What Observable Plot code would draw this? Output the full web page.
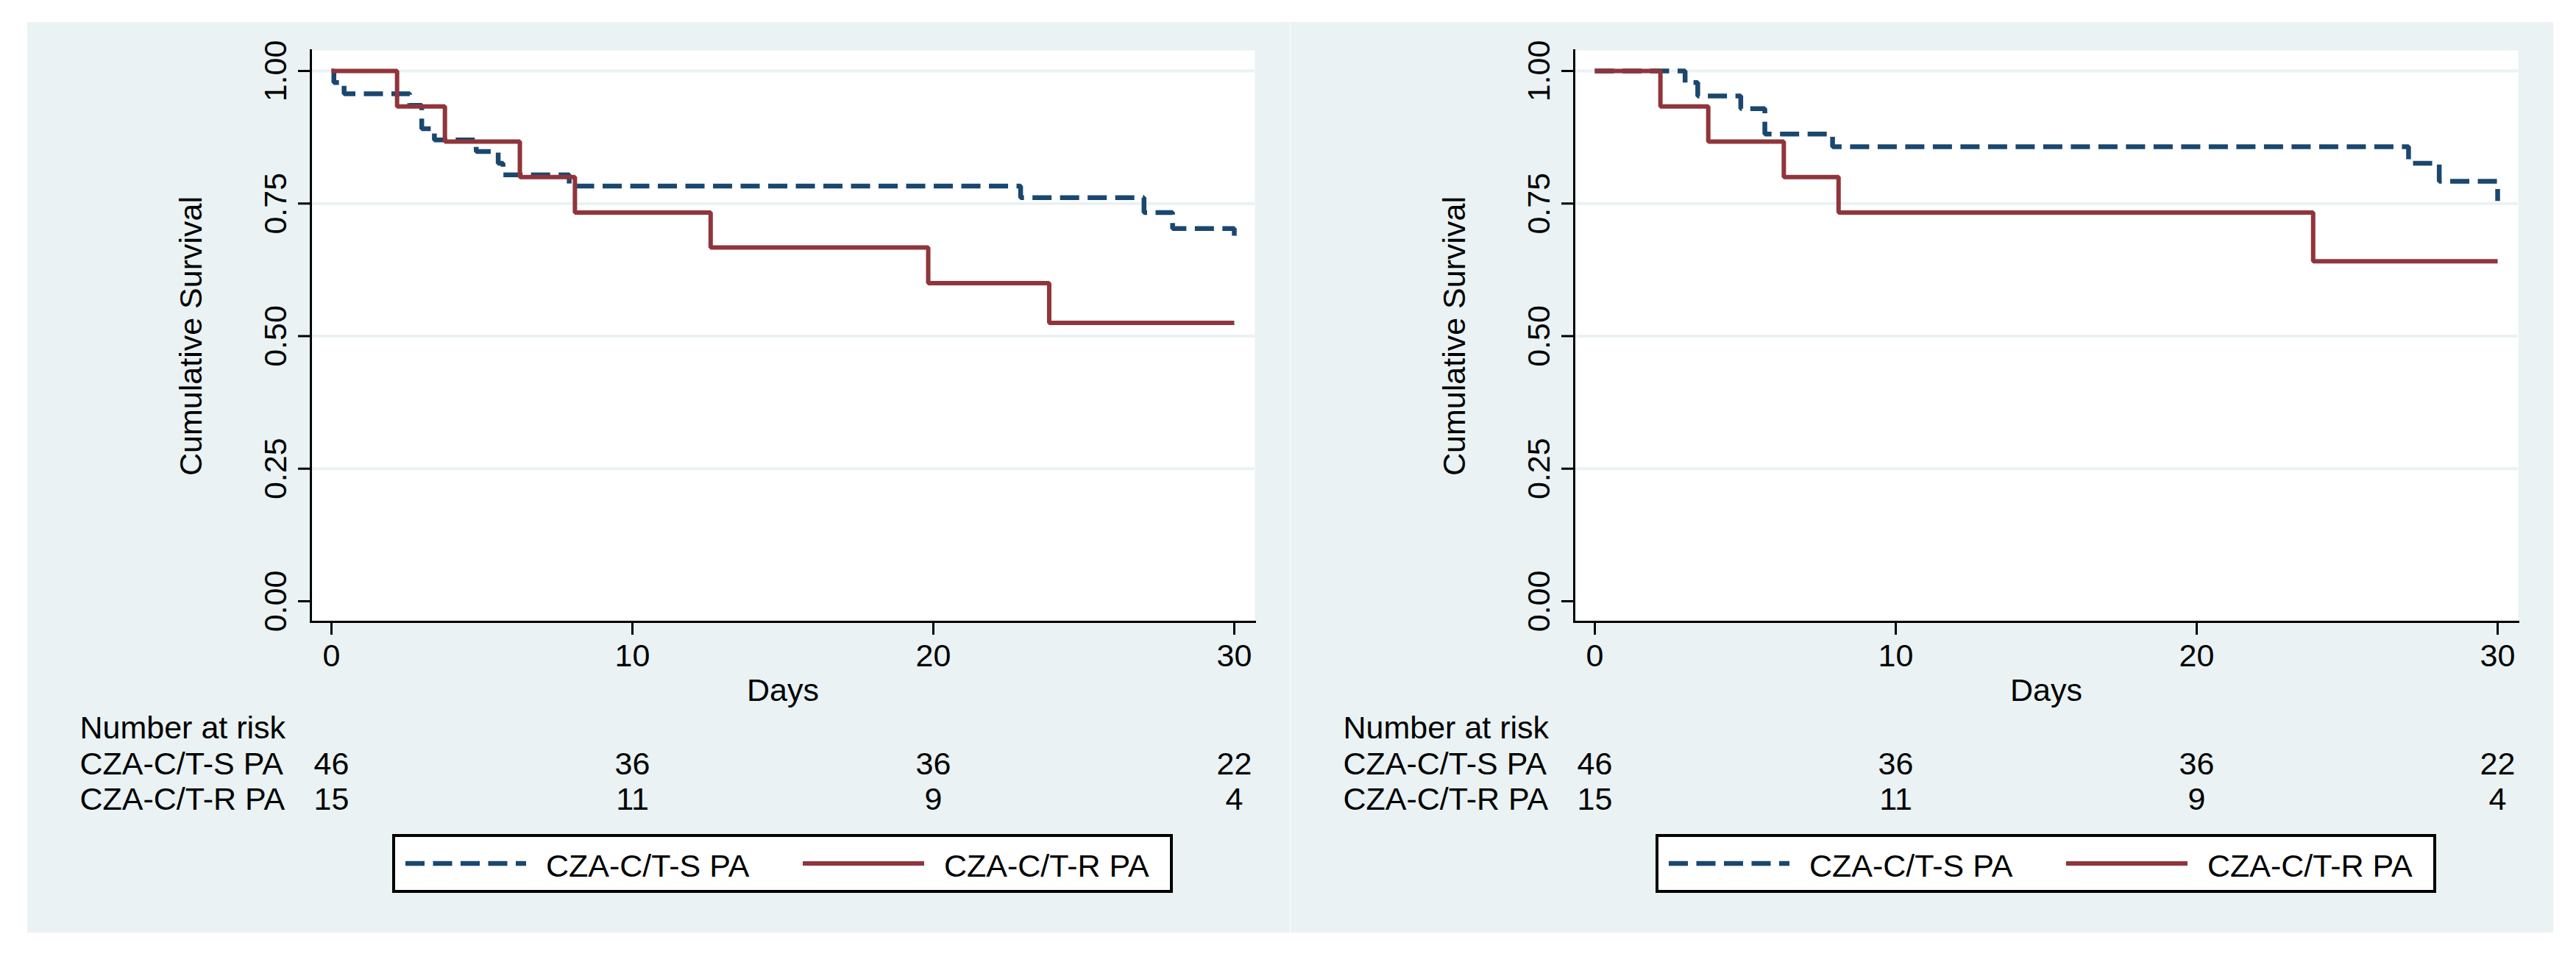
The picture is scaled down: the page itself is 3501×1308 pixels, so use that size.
<!DOCTYPE html>
<html>
<head>
<meta charset="utf-8">
<script src="https://cdn.jsdelivr.net/npm/d3@7"></script>
<script src="https://cdn.jsdelivr.net/npm/@observablehq/plot@0.6"></script>
<style>
html, body { margin: 0; padding: 0; background: #ffffff; }
#root { position: relative; width: 3501px; height: 1308px; font-family: "Liberation Sans", Arial, Helvetica, sans-serif; }
.panel { position: absolute; top: 30px; width: 1716px; height: 1238px; background: #EAF2F3; }
.panel svg { display: block; }
.legend { display: block; margin-left: 496px; margin-top: 24px; }
</style>
</head>
<body>
<div id="root"></div>
<script>
// ---------- data ----------
const seriesNames = ["CZA-C/T-S PA", "CZA-C/T-R PA"];
const seriesColors = ["#1a476f", "#90353b"];
const xTicks = [0, 10, 20, 30];
const yTicks = [0, 0.25, 0.5, 0.75, 1];
const gridTicks = [0.25, 0.5, 0.75, 1];
const riskDays = [0, 10, 20, 30];
const riskS = [46, 36, 36, 22];
const riskR = [15, 11, 9, 4];

// Panel A (left)
const sTimeA = [0, 0.08, 0.42, 2.6, 3.0, 3.42, 4.81, 5.54, 5.7, 7.9, 22.9, 27.0, 27.95, 30];
const sSurvA = [1, 0.978, 0.957, 0.935, 0.891, 0.870, 0.848, 0.826, 0.804, 0.783, 0.761, 0.733, 0.703, 0.674];
const rTimeA = [0, 2.18, 3.77, 6.26, 8.09, 12.6, 19.83, 23.85, 30];
const rSurvA = [1, 0.933, 0.867, 0.800, 0.733, 0.667, 0.600, 0.525, 0.525];

// Panel B (right)
const sTimeB = [0, 3.0, 3.42, 4.85, 5.65, 7.9, 27.04, 28.06, 30];
const sSurvB = [1, 0.978, 0.953, 0.929, 0.881, 0.857, 0.826, 0.792, 0.755];
const rTimeB = [0, 2.18, 3.77, 6.28, 8.1, 23.87, 30];
const rSurvB = [1, 0.933, 0.867, 0.800, 0.733, 0.641, 0.641];

// ---------- drawing ----------
const BG = "#EAF2F3";
const FS = 43;
const zip = (t, s) => t.map((d, i) => ({t: d, s: s[i]}));

function makePanel(sT, sS, rT, rS) {
  const sData = zip(sT, sS);
  const rData = zip(rT, rS);
  return Plot.plot({
    width: 1716,
    height: 1080,
    marginLeft: 385,
    marginRight: 48,
    marginTop: 38,
    marginBottom: 265,
    x: {domain: [0, 30], range: [413, 1640], label: null},
    y: {domain: [0, 1], range: [787, 66], label: null},
    style: {background: "transparent", color: "black", fontFamily: "Liberation Sans, Arial, Helvetica, sans-serif", fontSize: FS + "px"},
    marks: [
      Plot.frame({fill: "white", stroke: "none"}),
      Plot.gridY(gridTicks, {stroke: BG, strokeOpacity: 1, strokeWidth: 4}),
      Plot.line(sData, {x: "t", y: "s", curve: "step-after", stroke: seriesColors[0], strokeWidth: 6.5,
        strokeDasharray: "26 11.5", strokeLinecap: "butt", strokeLinejoin: "miter"}),
      Plot.line(rData, {x: "t", y: "s", curve: "step-after", stroke: seriesColors[1], strokeWidth: 6,
        strokeLinecap: "butt", strokeLinejoin: "miter"}),
      Plot.frame({anchor: "left", stroke: "black", strokeWidth: 3}),
      Plot.frame({anchor: "bottom", stroke: "black", strokeWidth: 3}),
      Plot.axisY(yTicks, {tickSize: 17, tickPadding: 17, tickRotate: -90, tickFormat: d3.format(".2f"),
        fontSize: FS, strokeWidth: 3, fill: "black", label: null}),
      Plot.axisX(xTicks, {tickSize: 18, tickPadding: 12, fontSize: FS, strokeWidth: 3, fill: "black", label: null}),
      Plot.text(["Days"], {frameAnchor: "bottom", dy: 107, lineAnchor: "bottom", fontSize: FS, fill: "black"}),
      Plot.text(["Cumulative Survival"], {frameAnchor: "left", dx: -149, rotate: -90, lineAnchor: "bottom",
        textAnchor: "middle", fontSize: FS, fill: "black"}),
      Plot.text(["Number at risk"], {frameAnchor: "bottom-left", dx: -314, dy: 158, textAnchor: "start",
        lineAnchor: "bottom", fontSize: FS, fill: "black"}),
      Plot.text([seriesNames[0]], {frameAnchor: "bottom-left", dx: -314, dy: 207, textAnchor: "start",
        lineAnchor: "bottom", fontSize: FS, fill: "black"}),
      Plot.text([seriesNames[1]], {frameAnchor: "bottom-left", dx: -314, dy: 255, textAnchor: "start",
        lineAnchor: "bottom", fontSize: FS, fill: "black"}),
      Plot.text(riskS, {x: riskDays, text: d => String(d), frameAnchor: "bottom", dy: 207, textAnchor: "middle",
        lineAnchor: "bottom", fontSize: FS, fill: "black"}),
      Plot.text(riskR, {x: riskDays, text: d => String(d), frameAnchor: "bottom", dy: 255, textAnchor: "middle",
        lineAnchor: "bottom", fontSize: FS, fill: "black"})
    ]
  });
}

function makeLegend() {
  const W = 1061, H = 80;
  const svg = d3.create("svg").attr("class", "legend").attr("width", W).attr("height", H)
    .style("font-family", "Liberation Sans, Arial, Helvetica, sans-serif");
  svg.append("rect").attr("x", 2).attr("y", 2).attr("width", W - 4).attr("height", H - 4)
    .attr("fill", "white").attr("stroke", "black").attr("stroke-width", 4);
  const items = [
    {x1: 18, x2: 182, tx: 209, dash: "26 11.5", w: 6.5},
    {x1: 558, x2: 723, tx: 750, dash: null, w: 6}
  ];
  items.forEach((it, i) => {
    const ln = svg.append("line").attr("x1", it.x1).attr("x2", it.x2).attr("y1", 40).attr("y2", 40)
      .attr("stroke", seriesColors[i]).attr("stroke-width", it.w);
    if (it.dash) ln.attr("stroke-dasharray", it.dash);
    svg.append("text").attr("x", it.tx).attr("y", 58).attr("font-size", FS).attr("fill", "black")
      .text(seriesNames[i]);
  });
  return svg.node();
}

const root = document.getElementById("root");
[[37, sTimeA, sSurvA, rTimeA, rSurvA], [1754, sTimeB, sSurvB, rTimeB, rSurvB]].forEach(([left, a, b, c, d]) => {
  const div = document.createElement("div");
  div.className = "panel";
  div.style.left = left + "px";
  div.appendChild(makePanel(a, b, c, d));
  div.appendChild(makeLegend());
  root.appendChild(div);
});
</script>
</body>
</html>
